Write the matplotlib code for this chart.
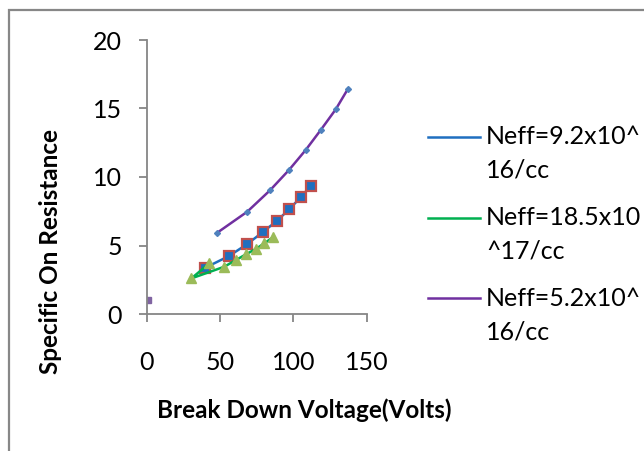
import matplotlib
matplotlib.use("Agg")
import matplotlib.pyplot as plt
from matplotlib.lines import Line2D
from matplotlib.patches import Rectangle

plt.rcParams['font.family'] = ['Lato', 'DejaVu Sans']

# datos
v_92 = [40.0, 56.1, 68.6, 79.3, 88.9, 97.3, 105.0, 112.0]
r_92 = [3.38, 4.23, 5.11, 5.99, 6.81, 7.66, 8.52, 9.37]

v_185 = [42.7, 30.5, 52.9, 60.9, 67.7, 74.3, 80.2, 86.4]
r_185 = [3.70, 2.60, 3.45, 3.94, 4.36, 4.74, 5.16, 5.62]

v_52 = [48.2, 68.6, 84.1, 97.0, 108.4, 118.8, 128.9, 137.3]
r_52 = [5.94, 7.47, 9.03, 10.51, 11.97, 13.45, 14.94, 16.45]

v_suelto = [1.0]
r_suelto = [1.0]

etiquetas = ["Neff=9.2x10^\n16/cc", "Neff=18.5x10\n^17/cc", "Neff=5.2x10^\n16/cc"]
colores = ["#1F6FC0", "#00B050", "#7030A0"]

W, H = 644, 451
fig = plt.figure(figsize=(W / 100, H / 100), dpi=100)
ax = fig.add_axes([146.7 / W, 1 - 314 / H, 220 / W, 274 / H])

# borde exterior del gráfico
fig.add_artist(Rectangle((9 / W, -0.1), 1.2, 1 - 10 / H + 0.1, transform=fig.transFigure,
                         fill=False, edgecolor="#878787", linewidth=1.6))

ax.plot(v_92, r_92, color=colores[0], linewidth=1.8, marker="s", markersize=7.5,
        markerfacecolor="#1F6FC0", markeredgecolor="#C0504D", markeredgewidth=1.6, zorder=3)
ax.plot(v_185, r_185, color=colores[1], linewidth=1.8, marker="^", markersize=7,
        markerfacecolor="#9BBB59", markeredgecolor="#9BBB59", zorder=4)
ax.plot(v_52, r_52, color=colores[2], linewidth=1.8, marker="D", markersize=3,
        markerfacecolor="#4F81BD", markeredgecolor="#4F81BD", zorder=3)
ax.plot(v_suelto, r_suelto, linestyle="none", marker="s", markersize=4,
        markerfacecolor="#8064A2", markeredgecolor="#8064A2")

ax.set_xlim(0, 150)
ax.set_ylim(0, 20)
ax.set_xticks([0, 50, 100, 150])
ax.set_yticks([0, 5, 10, 15, 20])
ax.spines[['top', 'right']].set_visible(False)
for s in ['left', 'bottom']:
    ax.spines[s].set_color("#868686")
    ax.spines[s].set_linewidth(1.3)
ax.tick_params(axis='both', direction='out', length=5.8, width=1.3, color="#868686",
               labelsize=18, labelcolor="black")
ax.tick_params(axis='x', pad=21)
ax.tick_params(axis='y', pad=12)
ax.set_facecolor("none")

# títulos de ejes
fig.text(304 / W, 1 - 410 / H, "Break Down Voltage(Volts)", fontsize=17.5, fontweight="bold",
         ha="center", va="center")
fig.text(51 / W, 1 - 251 / H, "Specific On Resistance", fontsize=17.5, fontweight="bold",
         rotation=90, ha="center", va="center")

# leyenda a mano (texto en dos líneas)
ys = [136.7, 217.7, 298.3]
for y, lab, c in zip(ys, etiquetas, colores):
    fig.add_artist(Line2D([428 / W, 480 / W], [1 - y / H, 1 - y / H], color=c, linewidth=1.8))
    l1, l2 = lab.split("\n")
    fig.text(486 / W, 1 - y / H, l1, fontsize=18, ha="left", va="center")
    fig.text(486 / W, 1 - (y + 33.3) / H, l2, fontsize=18, ha="left", va="center")

fig.savefig("out.png", dpi=100)
